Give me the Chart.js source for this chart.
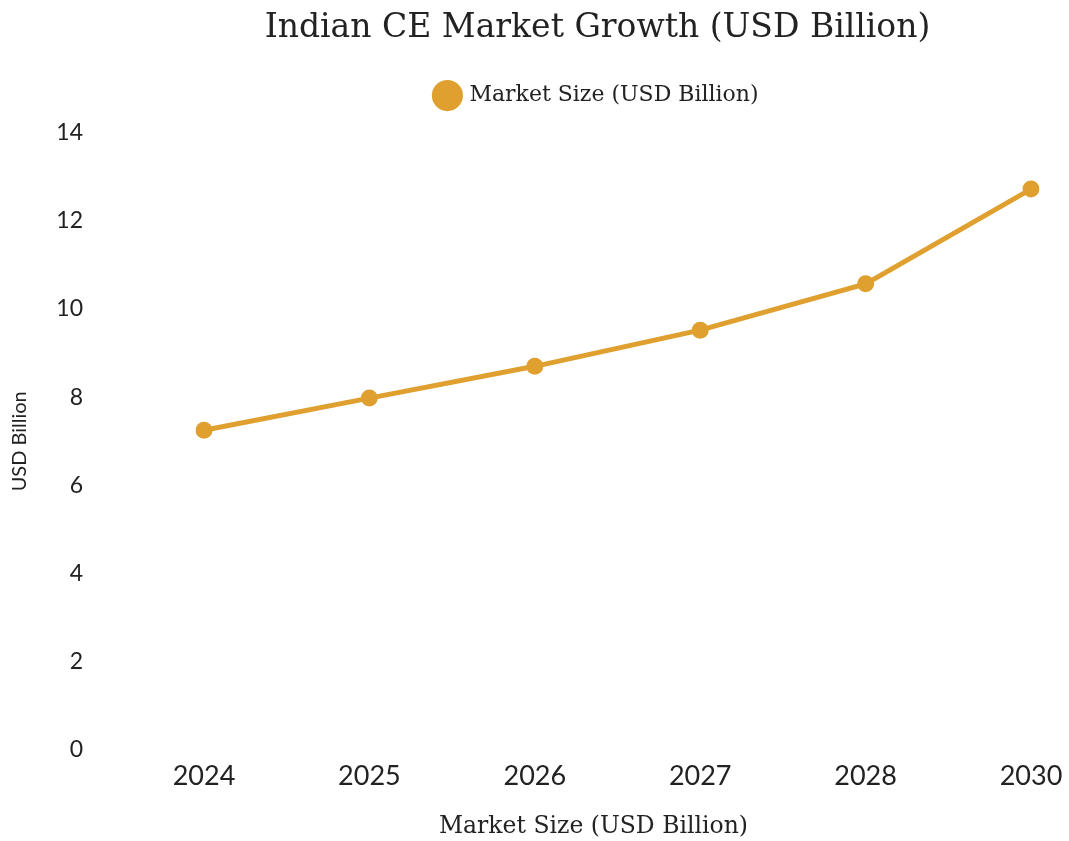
<!DOCTYPE html>
<html>
<head>
<meta charset="utf-8">
<script src="https://cdn.jsdelivr.net/npm/chart.js@4.4.1/dist/chart.umd.min.js"></script>
<style>
  html, body { margin: 0; padding: 0; background: #fff; overflow: hidden; }
  canvas { display: block; }
</style>
</head>
<body>
<canvas id="growthChart" width="1069" height="841"></canvas>
<script>
// data
const years = ['2024', '2025', '2026', '2027', '2028', '2030'];
const marketSize = [7.25, 7.98, 8.7, 9.52, 10.57, 12.72];
const yTicks = [0, 2, 4, 6, 8, 10, 12, 14];

const gold = '#E0A02F';
const serif = "'DejaVu Serif', 'Liberation Serif', serif";
const sans = "Lato, 'Open Sans', sans-serif";

// title + legend sit a bit right of centre in the reference,
// the x title a bit left, and there's extra room under the legend
const headerShift = {
  id: 'headerShift',
  beforeInit(chart) {
    const lg = chart.legend;
    if (lg) {
      const fit = lg.fit;
      lg.fit = function () { fit.call(this); this.height += 16; };
    }
  },
  afterLayout(chart) {
    [chart.titleBlock, chart.legend].forEach(b => {
      if (!b) return;
      b.left += 78;
      b.right += 78;
    });
    const xs = chart.scales.x;
    if (xs && !xs._titleShifted) {
      const drawTitle = xs.drawTitle;
      xs.drawTitle = function () {
        this.left -= 24; this.right -= 24;
        drawTitle.call(this);
        this.left += 24; this.right += 24;
      };
      xs._titleShifted = true;
    }
  }
};

const ctx = document.getElementById('growthChart').getContext('2d');

new Chart(ctx, {
  type: 'line',
  data: {
    labels: years,
    datasets: [{
      label: 'Market Size (USD Billion)',
      data: marketSize,
      borderColor: gold,
      backgroundColor: gold,
      borderWidth: 5,
      pointRadius: 8.5,
      pointBackgroundColor: gold,
      pointBorderWidth: 0,
      tension: 0
    }]
  },
  options: {
    responsive: false,
    devicePixelRatio: 1,
    animation: false,
    layout: { padding: { left: 8, right: 38, top: 0, bottom: 0 } },
    plugins: {
      title: {
        display: true,
        text: 'Indian CE Market Growth (USD Billion)',
        color: '#222',
        font: { family: serif, size: 33, weight: 'normal' },
        padding: { top: 9, bottom: 24 }
      },
      legend: {
        labels: {
          usePointStyle: true,
          pointStyle: 'circle',
          boxWidth: 25,
          boxHeight: 25,
          color: '#222',
          font: { family: serif, size: 22 },
          padding: 12
        }
      },
      tooltip: { enabled: false }
    },
    scales: {
      x: {
        offset: false,
        grid: { display: false },
        border: { display: false },
        afterFit: axis => { axis.height = 91; },
        ticks: {
          color: '#222',
          font: { family: sans, size: 27 },
          padding: 2
        },
        title: {
          display: true,
          text: 'Market Size (USD Billion)',
          color: '#222',
          font: { family: serif, size: 23.5 },
          padding: { top: 10, bottom: 0 }
        }
      },
      y: {
        min: 0,
        max: 14,
        grid: { display: false },
        border: { display: false },
        afterBuildTicks: axis => { axis.ticks = yTicks.map(v => ({ value: v })); },
        afterFit: axis => {
          axis.width = 196;
          axis.paddingTop = 14;
          axis.paddingBottom = 14;
        },
        ticks: {
          color: '#222',
          font: { family: sans, size: 23 },
          padding: 113
        },
        title: {
          display: true,
          text: 'USD Billion',
          color: '#222',
          font: { family: sans, size: 20 },
          padding: { top: 0, bottom: 0 }
        }
      }
    }
  },
  plugins: [headerShift]
});
</script>
</body>
</html>
